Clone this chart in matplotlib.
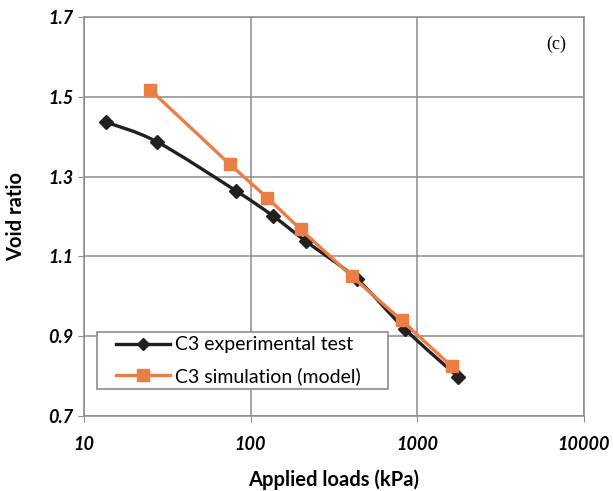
import numpy as np
import matplotlib
matplotlib.use("Agg")
from matplotlib import pyplot as plt
from matplotlib.path import Path
from matplotlib.patches import PathPatch
from matplotlib.lines import Line2D
from matplotlib.legend_handler import HandlerLine2D

plt.rcParams['font.family'] = ['Lato', 'DejaVu Sans']

# data
exp_load = [13.6, 27.4, 82, 137, 215, 434, 847, 1770]
exp_void = [1.436, 1.387, 1.264, 1.201, 1.138, 1.044, 0.918, 0.798]
sim_load = [25, 75, 126, 200, 405, 809, 1615]
sim_void = [1.517, 1.331, 1.247, 1.168, 1.051, 0.940, 0.825]

black = '#231f20'
orange = '#EA7E45'


def smooth_path(xs, ys):
    # Excel style smoothed line: Bezier segments built in log-x space
    lx = np.log10(xs)
    y = np.asarray(ys)
    n = len(lx)
    verts = [(xs[0], y[0])]
    codes = [Path.MOVETO]
    t = 1 / 6
    for i in range(n - 1):
        p0 = (lx[max(i - 1, 0)], y[max(i - 1, 0)])
        p1 = (lx[i], y[i])
        p2 = (lx[i + 1], y[i + 1])
        p3 = (lx[min(i + 2, n - 1)], y[min(i + 2, n - 1)])
        c1 = (p1[0] + (p2[0] - p0[0]) * t, p1[1] + (p2[1] - p0[1]) * t)
        c2 = (p2[0] - (p3[0] - p1[0]) * t, p2[1] - (p3[1] - p1[1]) * t)
        for c in (c1, c2, p2):
            verts.append((10 ** c[0], c[1]))
        codes += [Path.CURVE4] * 3
    return Path(verts, codes)


fig = plt.figure(figsize=(6.13, 4.91), dpi=100)
ax = fig.add_axes([0.137, 0.152, 0.815, 0.814])

ax.set_xscale('log')
ax.set_xlim(10, 10000)
ax.set_ylim(0.7, 1.7)
ax.set_yticks([0.7, 0.9, 1.1, 1.3, 1.5, 1.7])
ax.set_xticks([10, 100, 1000, 10000])
ax.set_xticklabels(['10', '100', '1000', '10000'])
ax.minorticks_off()
ax.grid(True, color='#8c8c8c', linewidth=1.1)
ax.set_axisbelow(True)
for s in ax.spines.values():
    s.set_color('#8c8c8c')
    s.set_linewidth(1.1)
ax.tick_params(length=4, color='#8c8c8c', labelsize=13)
ax.tick_params(axis='x', pad=10)
for lab in ax.get_xticklabels() + ax.get_yticklabels():
    lab.set_fontweight('bold')
    lab.set_fontstyle('italic')

# experimental: smoothed line + diamonds
ax.add_patch(PathPatch(smooth_path(exp_load, exp_void), facecolor='none',
                       edgecolor=black, linewidth=2.4, zorder=3))
ax.plot(exp_load, exp_void, linestyle='none', marker='D', markersize=7,
        color=black, zorder=4)
# simulation
ax.plot(sim_load, sim_void, color=orange, linewidth=2.4, marker='s',
        markersize=8, zorder=5)

handles = [
    Line2D([], [], color=black, linewidth=2.4, marker='D', markersize=6),
    Line2D([], [], color=orange, linewidth=2.4, marker='s', markersize=8),
]
leg = ax.legend(handles, ['C3 experimental test', 'C3 simulation (model)'],
                loc='lower left', bbox_to_anchor=(0.026, 0.068, 0.583, 0.2),
                mode='expand', fontsize=14,
                fancybox=False, framealpha=1, edgecolor='#8c8c8c',
                handler_map={Line2D: HandlerLine2D(xpad=0.75)},
                handlelength=3.55, handletextpad=0.25, borderaxespad=0,
                borderpad=0.23, labelspacing=0.69)
leg.get_frame().set_linewidth(1.2)

ax.text(0.965, 0.93, '(c)', transform=ax.transAxes, ha='right', va='center',
        fontsize=13, family='Liberation Serif')

ax.set_xlabel('Applied loads (kPa)', fontsize=14.5, fontweight='bold', labelpad=12)
ax.set_ylabel('Void ratio', fontsize=14.5, fontweight='bold', labelpad=16)

fig.savefig('out.png', dpi=100)
